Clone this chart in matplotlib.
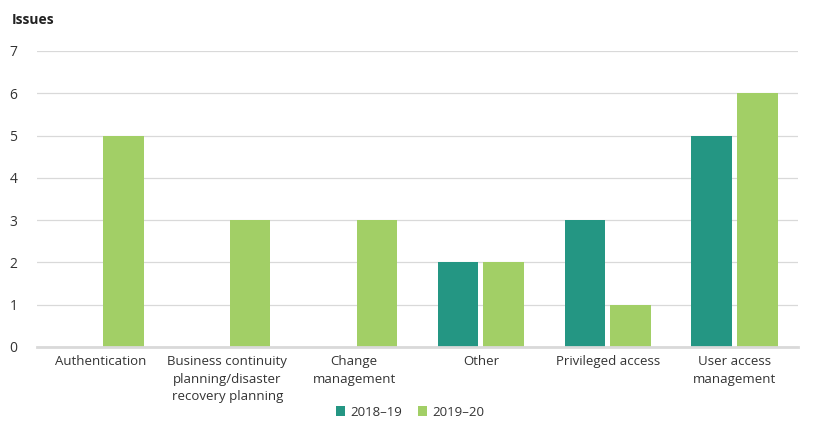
import numpy as np
import matplotlib
matplotlib.use("Agg")
import matplotlib.pyplot as plt

# Data
categories = [
    "Authentication",
    "Business continuity\nplanning/disaster\nrecovery planning",
    "Change\nmanagement",
    "Other",
    "Privileged access",
    "User access\nmanagement",
]
issues_2018_19 = [0, 0, 0, 2, 3, 5]
issues_2019_20 = [5, 3, 3, 2, 1, 6]
series_labels = ["2018\u201319", "2019\u201320"]
colors = ["#249683", "#a2cf66"]

plt.rcParams["font.family"] = ["Open Sans", "DejaVu Sans"]

fig = plt.figure(figsize=(8.2, 4.33), dpi=100)
ax = fig.add_axes([37 / 820, 1 - 347 / 433, (798 - 37) / 820, (347 - 51) / 433])

x = np.arange(len(categories))
w = 0.32
off = 0.18
ax.bar(x - off, issues_2018_19, w, color=colors[0], label=series_labels[0], linewidth=0)
ax.bar(x + off, issues_2019_20, w, color=colors[1], label=series_labels[1], linewidth=0)

ax.set_xlim(-0.5, len(categories) - 0.5)
ax.set_ylim(0, 7)
ax.set_yticks(range(0, 8))
ax.set_xticks(x)
ax.set_xticklabels(categories, fontsize=9.5, color="#333333", linespacing=1.45)
ax.tick_params(axis="both", length=0, labelsize=9.5, colors="#333333")
ax.tick_params(axis="y", pad=14, labelsize=10)
ax.tick_params(axis="x", pad=6)

ax.grid(axis="y", color="#d9d9d9", linewidth=0.9)
ax.set_axisbelow(True)
for s in ["top", "right", "left"]:
    ax.spines[s].set_visible(False)
ax.spines["bottom"].set_color("#d9d9d9")
ax.spines["bottom"].set_linewidth(2)

fig.text(12 / 820, 1 - 20 / 433, "Issues", fontsize=10, fontweight="bold",
         color="#222222", va="center", ha="left")

fig.legend(loc="center", bbox_to_anchor=(410 / 820, 1 - 412 / 433), ncol=2,
           frameon=False, fontsize=9.5, handlelength=0.7, handleheight=0.7,
           handletextpad=0.4, columnspacing=1.2, labelcolor="#333333")

fig.savefig("out.png", dpi=100)
